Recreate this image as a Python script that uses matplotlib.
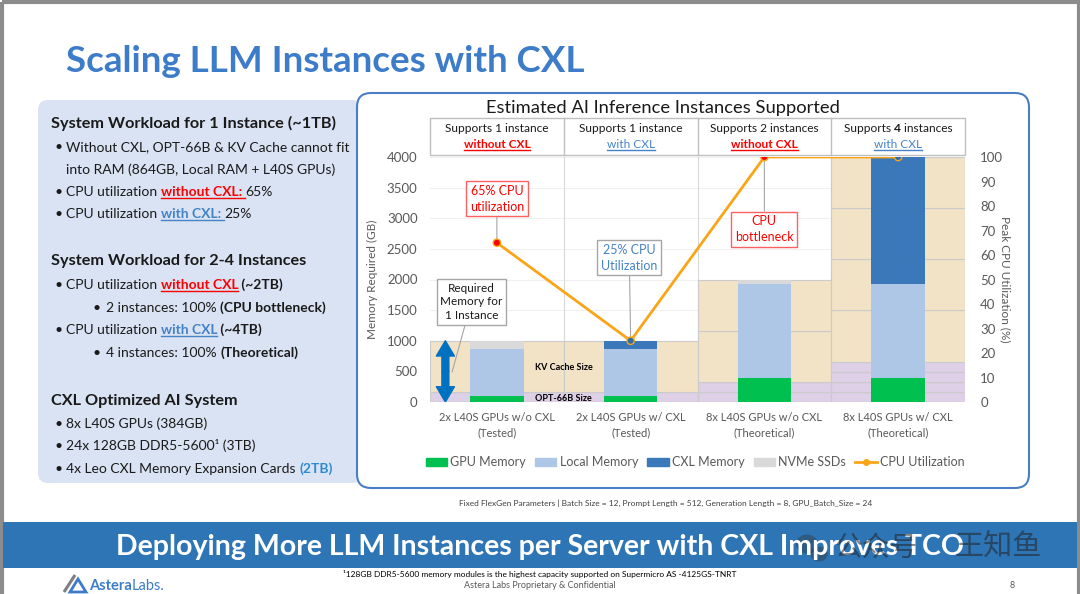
import matplotlib
matplotlib.use("Agg")
import matplotlib.pyplot as plt
from matplotlib.patches import FancyBboxPatch, Rectangle, Patch, FancyArrowPatch, Ellipse, Polygon
from matplotlib.lines import Line2D

plt.rcParams['font.family'] = ['Lato', 'DejaVu Sans']

# ---- data ----
categories = ["2x L40S GPUs w/o CXL\n(Tested)", "2x L40S GPUs w/ CXL\n(Tested)",
              "8x L40S GPUs w/o CXL\n(Theoretical)", "8x L40S GPUs w/ CXL\n(Theoretical)"]
header_top = ["Supports 1 instance", "Supports 1 instance", "Supports 2 instances", "Supports 4 instances"]
header_bottom = ["without CXL", "with CXL", "without CXL", "with CXL"]
instances = [1, 1, 2, 4]
opt_size = 165      # OPT-66B size per instance (GB)
kv_size = 835       # KV cache size per instance (GB)
gpu_mem = [96, 96, 384, 384]
local_mem = [768, 768, 1536, 1536]
cxl_mem = [0, 136, 0, 2080]
nvme = [136, 0, 80, 0]
cpu_util = [65, 25, 100, 100]
mem_ticks = [0, 500, 1000, 1500, 2000, 2500, 3000, 3500, 4000]
cpu_ticks = [0, 10, 20, 30, 40, 50, 60, 70, 80, 90, 100]

# colours
TAN = '#F2E2C6'
PURPLE = '#DED0E6'
EDGE = '#CBCBCB'
GREEN = '#00C050'
LBLUE = '#AEC7E6'
DBLUE = '#3A78BA'
GRAY = '#D9D9D9'
ORANGE = '#FAA519'
RED = '#FF0000'
BLUE = '#4483C8'
TXT = '#1A1A1A'
TICK = '#595959'

W, H = 1080, 594
fig = plt.figure(figsize=(10.8, 5.94), dpi=100)
bg = fig.add_axes([0, 0, 1, 1])
bg.set_xlim(0, W)
bg.set_ylim(H, 0)
bg.axis('off')
R = fig.canvas.get_renderer()


def px_rect(x0, y0, x1, y1):
    return [x0 / W, 1 - y1 / H, (x1 - x0) / W, (y1 - y0) / H]


def style_kw(size, st):
    return dict(fontsize=size, color=st.get('color', TXT),
                fontweight='bold' if st.get('bold') else 'normal')


def seg_w(s, size, st):
    t = bg.text(0, 0, s + '|', **style_kw(size, st))
    w1 = t.get_window_extent(R).width
    t.remove()
    t = bg.text(0, 0, '|', **style_kw(size, st))
    w2 = t.get_window_extent(R).width
    t.remove()
    return w1 - w2


def rich(x, y, parts, size, ha='left'):
    widths = [seg_w(s, size, st) for s, st in parts]
    if ha == 'center':
        x -= sum(widths) / 2
    for (s, st), w in zip(parts, widths):
        kw = style_kw(size, st)
        bg.text(x, y, s, va='center_baseline', ha='left', **kw)
        if st.get('ul'):
            bg.plot([x, x + w], [y + size * 0.72] * 2, color=kw['color'], lw=1)
        x += w


# ---- slide frame ----
bg.add_patch(Rectangle((1.5, 1.5), W - 3, H + 5, fill=False, ec='#8C8C8C', lw=3))
bg.text(66, 58, "Scaling LLM Instances with CXL", fontsize=26.5, fontweight='bold',
        color='#3D7CC9', va='center_baseline')

# left panel
bg.add_patch(FancyBboxPatch((38, 100), 324, 383, boxstyle='round,pad=0,rounding_size=10',
                            fc='#DAE3F3', ec='none'))
N = {}
B = {'bold': True}
RU = {'bold': True, 'color': RED, 'ul': True}
BU = {'bold': True, 'color': BLUE, 'ul': True}
BB = {'bold': True, 'color': '#2E8BD0'}
HS, BS = 11.7, 10

rich(51, 122, [("System Workload for 1 Instance (~1TB)", B)], HS)
left_lines = [
    (146, 0, [("Without CXL, OPT-66B & KV Cache cannot fit", N)]),
    (169, -1, [("into RAM (864GB, Local RAM + L40S GPUs)", N)]),
    (191, 0, [("CPU utilization ", N), ("without CXL: ", RU), ("65%", N)]),
    (213, 0, [("CPU utilization ", N), ("with CXL: ", BU), ("25%", N)]),
    (284, 0, [("CPU utilization ", N), ("without CXL", RU), (" (~2TB)", B)]),
    (307, 1, [("2 instances: 100% ", N), ("(CPU bottleneck)", B)]),
    (329, 0, [("CPU utilization ", N), ("with CXL", BU), (" (~4TB)", B)]),
    (352, 1, [("4 instances: 100% ", N), ("(Theoretical)", B)]),
    (423, 0, [("8x L40S GPUs (384GB)", N)]),
    (445, 0, [("24x 128GB DDR5-5600\u00b9 (3TB)", N)]),
    (468, 0, [("4x Leo CXL Memory Expansion Cards ", N), ("(2TB)", BB)]),
]
for y, lvl, parts in left_lines:
    if lvl == 1:
        bg.text(93, y, "\u2022", fontsize=BS, color=TXT, va='center_baseline')
        rich(106, y, parts, BS)
    else:
        if lvl == 0:
            bg.text(55, y, "\u2022", fontsize=BS, color=TXT, va='center_baseline')
        rich(66, y, parts, BS)
rich(51, 260, [("System Workload for 2-4 Instances", B)], HS)
rich(51, 399, [("CXL Optimized AI System", B)], HS)

# chart frame
bg.add_patch(FancyBboxPatch((357, 93), 672, 395, boxstyle='round,pad=0,rounding_size=14',
                            fc='white', ec='#4A7EC2', lw=1.5))
bg.text(663, 106, "Estimated AI Inference Instances Supported", fontsize=13.2,
        color=TXT, ha='center', va='center_baseline')

# header table
bg.add_patch(Rectangle((430, 118), 535, 37, fill=False, ec='#BFBFBF', lw=1))
cell_w = 535 / 4
for i in range(4):
    cx = 430 + cell_w * (i + 0.5)
    if i > 0:
        bg.plot([430 + cell_w * i] * 2, [118, 155], color='#BFBFBF', lw=1)
    if i == 3:
        rich(cx, 128, [("Supports ", N), ("4", B), (" instances", N)], 8.6, ha='center')
    else:
        rich(cx, 128, [(header_top[i], N)], 8.6, ha='center')
    st = {'bold': True, 'color': RED, 'ul': True} if 'without' in header_bottom[i] \
        else {'color': BLUE, 'ul': True}
    rich(cx, 144, [(header_bottom[i], st)], 8.6, ha='center')

# ---- chart ----
ax = fig.add_axes(px_rect(430, 157, 965, 402))
ax.set_zorder(2)
ax.set_facecolor('none')
x = list(range(len(categories)))

for i, n in enumerate(instances):
    bottom = 0
    for k in range(n):
        ax.bar(i, opt_size, 1.0, bottom=bottom, color=PURPLE, edgecolor=EDGE, lw=0.8, zorder=1)
        bottom += opt_size
    for k in range(n):
        ax.bar(i, kv_size, 1.0, bottom=bottom, color=TAN, edgecolor=EDGE, lw=0.8, zorder=1)
        bottom += kv_size

stack = [0] * len(x)
for vals, col in [(gpu_mem, GREEN), (local_mem, LBLUE), (cxl_mem, DBLUE), (nvme, GRAY)]:
    ax.bar(x, vals, 0.4, bottom=stack, color=col, zorder=3)
    stack = [s + v for s, v in zip(stack, vals)]

for t in mem_ticks[1:]:
    ax.axhline(t, color='#F0F0F0', lw=0.8, zorder=0)
for xv in [0.5, 1.5, 2.5]:
    ax.axvline(xv, color='#D9D9D9', lw=0.8, zorder=0.5)

ax.set_xlim(-0.5, 3.5)
ax.set_ylim(0, 4000)
ax.set_yticks(mem_ticks)
ax.set_xticks(x)
ax.set_xticklabels(categories, fontsize=8, color=TICK, linespacing=1.5)
ax.tick_params(axis='y', length=0, labelsize=9.5, labelcolor=TICK, pad=9)
ax.tick_params(axis='x', length=0, pad=7)
for sp in ax.spines.values():
    sp.set_visible(False)
ax.set_ylabel("Memory Required (GB)", fontsize=8.5, color=TICK)
ax.yaxis.set_label_coords(-0.097, 0.5)

ax.text(0.5, 571, "KV Cache Size", fontsize=6.5, fontweight='bold', ha='center', va='center', zorder=4)
ax.text(0.5, 60, "OPT-66B Size", fontsize=6.5, fontweight='bold', ha='center', va='center', zorder=4)

# required memory arrow
for yend in (0, 1000):
    ax.add_patch(FancyArrowPatch((-0.385, 500), (-0.385, yend),
                                 arrowstyle='simple,head_length=11,head_width=13,tail_width=5',
                                 mutation_scale=1, color='#0070C0', shrinkA=0, shrinkB=0, zorder=6))
ax.annotate("Required\nMemory for\n1 Instance", xy=(-0.335, 490), xytext=(-0.19, 1633),
            fontsize=8.5, color=TXT, ha='center', va='center', linespacing=1.3, zorder=7,
            bbox=dict(boxstyle='square,pad=0.3', fc='white', ec='#A6A6A6', lw=1),
            arrowprops=dict(arrowstyle='-', color='#A6A6A6', lw=0.8, shrinkA=0, shrinkB=0))

ax2 = ax.twinx()
ax2.set_zorder(3)
ax2.set_facecolor('none')
ax2.plot(x, cpu_util, color=ORANGE, lw=2, zorder=5)
ax2.scatter(x, cpu_util, s=28, c=[RED, '#2E6EA6', RED, '#2E6EA6'], edgecolors=ORANGE,
            linewidths=1, zorder=6)
ax2.set_ylim(0, 100)
ax2.set_yticks(cpu_ticks)
ax2.tick_params(axis='y', length=0, labelsize=9.5, labelcolor=TICK, pad=11)
for sp in ax2.spines.values():
    sp.set_visible(False)
ax2.set_ylabel("Peak CPU Utilization (%)", fontsize=8.5, color=TICK, rotation=270, va='center')
ax2.yaxis.set_label_coords(1.075, 0.5)

notes = [("65% CPU\nutilization", 0, 65, 0.0, 82.9, RED, '#FF6060'),
         ("25% CPU\nUtilization", 1, 25, 0.99, 58.8, BLUE, '#A6A6A6'),
         ("CPU\nbottleneck", 2, 100, 2.0, 70.6, RED, '#FF6060')]
for txt, px_, py_, tx, ty, tc, ec in notes:
    ax2.annotate(txt, xy=(px_, py_), xytext=(tx, ty), fontsize=9, color=tc, ha='center',
                 va='center', linespacing=1.35, zorder=4,
                 bbox=dict(boxstyle='square,pad=0.3', fc='white', ec=ec, lw=1),
                 arrowprops=dict(arrowstyle='-', color='#A6A6A6', lw=0.8, shrinkA=0, shrinkB=0))

handles = [Patch(color=GREEN, label="GPU Memory"), Patch(color=LBLUE, label="Local Memory"),
           Patch(color=DBLUE, label="CXL Memory"), Patch(color=GRAY, label="NVMe SSDs"),
           Line2D([], [], color=ORANGE, lw=2, marker='o', ms=4, label="CPU Utilization")]
leg = fig.legend(handles=handles, loc='center', bbox_to_anchor=(695 / W, 1 - 462 / H), ncol=5,
                 frameon=False, fontsize=9, handlelength=1.7, handleheight=0.6,
                 handletextpad=0.25, columnspacing=0.75)
for t in leg.get_texts():
    t.set_color(TICK)

# ---- footer ----
bg.text(666, 503, "Fixed FlexGen Parameters | Batch Size = 12, Prompt Length = 512, "
        "Generation Length = 8, GPU_Batch_Size = 24", fontsize=6, color='#404040',
        ha='center', va='center')
bg.add_patch(Rectangle((3, 522), W - 6, 46, fc='#2E75B6', ec='none'))
bg.text(540, 545, "Deploying More LLM Instances per Server with CXL Improves TCO", fontsize=20.5,
        fontweight='bold', color='white', ha='center', va='center_baseline')
bg.text(540, 574, "\u00b9128GB DDR5-5600 memory modules is the highest capacity supported on "
        "Supermicro AS -4125GS-TNRT", fontsize=6, color='black', ha='center', va='center')
bg.text(540, 586, "Astera Labs Proprietary & Confidential", fontsize=6.5, color=TICK,
        ha='center', va='center')
bg.text(1012, 586, "8", fontsize=6.5, color=TICK, ha='center', va='center')

# logo
bg.plot([64, 75], [592, 575], color='#7F7F7F', lw=2.2, solid_capstyle='butt')
bg.add_patch(Polygon([(70, 592), (78, 579), (86, 592)], closed=True, fill=False, ec='#3D7CC9', lw=2))
rich(89, 585, [("Astera", {'bold': True, 'color': '#3D7CC9'}), ("Labs.", {'color': '#3D7CC9'})], 10.5)

# watermark (overlays the banner as in the source image)
bg.add_patch(Ellipse((807, 544), 22, 19, fc='#333333', alpha=0.4, ec='none'))
bg.add_patch(Ellipse((819, 554), 17, 15, fc='#333333', alpha=0.4, ec='none'))
fig.text(835 / W, 1 - 548 / H, "公众号", fontsize=20, color='#222222', alpha=0.55,
         family=['Noto Sans CJK SC'], va='center', ha='left')
fig.text(955 / W, 1 - 548 / H, "王知鱼", fontsize=21, color='#222222', alpha=0.55,
         family=['Noto Sans CJK SC'], va='center', ha='left')

fig.savefig("out.png", dpi=100)
